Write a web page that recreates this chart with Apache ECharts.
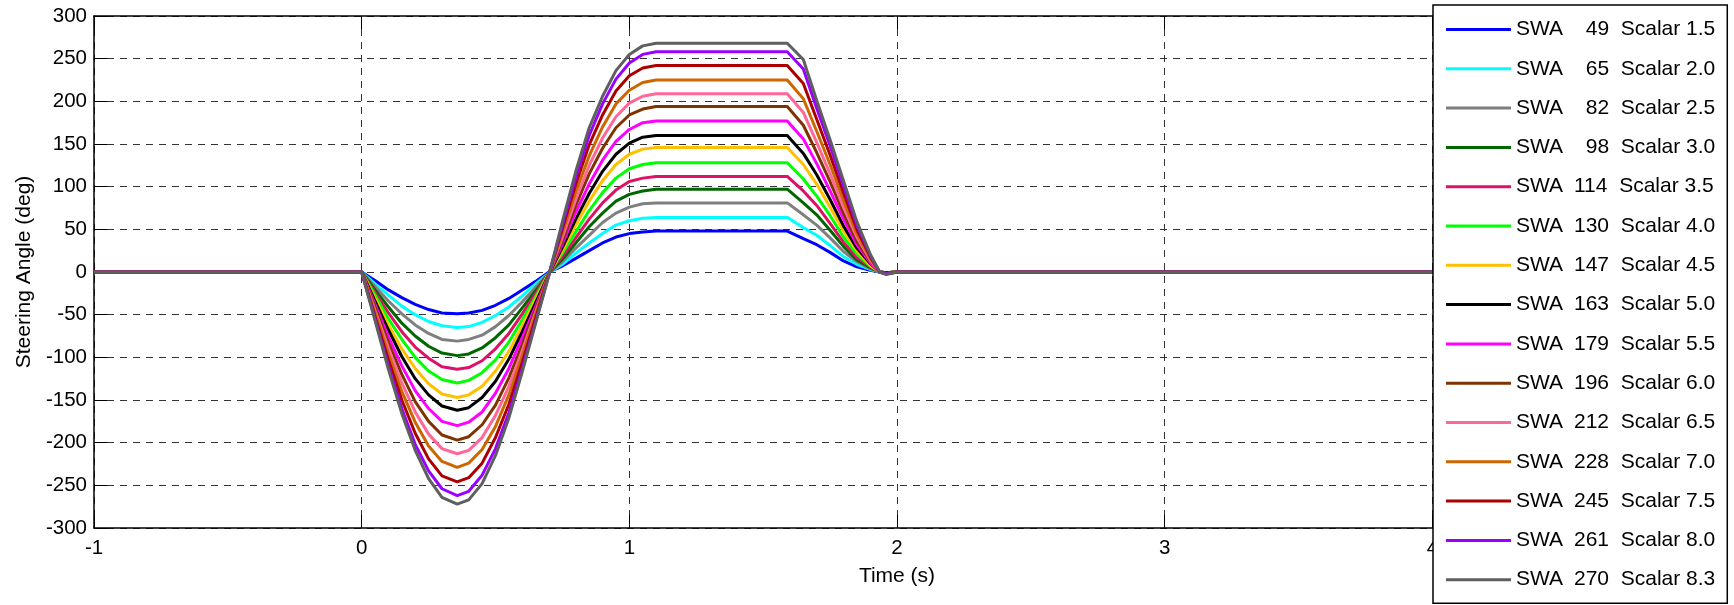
<!DOCTYPE html>
<html>
<head>
<meta charset="utf-8">
<title>Steering Angle - Sine with Dwell</title>
<script src="https://cdn.jsdelivr.net/npm/echarts@6/dist/echarts.min.js"></script>
<style>
  html, body { margin: 0; padding: 0; background: #fff; }
  #chart { width: 1734px; height: 605px; }
</style>
</head>
<body>
<div id="chart"></div>
<script>
// time stamps (s) shared by every run
const time = [-1, 0, 0.05, 0.1, 0.15, 0.2, 0.25, 0.3, 0.357, 0.4, 0.45, 0.5, 0.55, 0.6, 0.65, 0.7,
  0.75, 0.8, 0.85, 0.9, 0.95, 1.0, 1.05, 1.1, 1.35, 1.59, 1.65, 1.7, 1.75, 1.8, 1.85, 1.9, 1.935, 1.96, 2.0, 5]

const swaDeg = [49, 65, 82, 98, 114, 130, 147, 163, 179, 196, 212, 228, 245, 261, 270]
const scalar = ["1.5", "2.0", "2.5", "3.0", "3.5", "4.0", "4.5", "5.0", "5.5", "6.0", "6.5", "7.0", "7.5", "8.0", "8.3"]

// steering angle (deg), one array per run
const swa049 = [0, 0, -10, -21, -30, -38, -44, -48, -49, -48, -45, -39, -31, -21, -11, 0, 7, 16, 25, 34, 41, 45, 47, 48, 48, 48, 39, 32, 23, 13, 6, 2, 0, -1, 0, 0]
const swa065 = [0, 0, -14, -27, -40, -50, -58, -63, -65, -64, -59, -51, -41, -28, -14, -1, 9, 22, 34, 45, 55, 60, 63, 64, 64, 64, 52, 43, 31, 18, 9, 3, 0, -1, 0, 0]
const swa082 = [0, 0, -17, -34, -49, -62, -72, -79, -81, -79, -74, -64, -51, -35, -18, -1, 12, 28, 43, 58, 69, 76, 80, 81, 81, 81, 67, 55, 40, 24, 12, 4, 0, -1, 0, 0]
const swa098 = [0, 0, -21, -41, -60, -75, -87, -95, -98, -96, -89, -77, -62, -42, -22, -1, 15, 34, 53, 69, 83, 91, 95, 97, 97, 97, 81, 67, 49, 30, 14, 5, 0, -1, 0, 0]
const swa114 = [0, 0, -24, -48, -70, -88, -101, -111, -114, -112, -104, -90, -72, -49, -25, -1, 18, 40, 62, 81, 96, 106, 110, 112, 112, 112, 95, 78, 57, 35, 17, 6, 0, -1, 0, 0]
const swa130 = [0, 0, -27, -55, -79, -100, -116, -126, -130, -127, -118, -103, -82, -56, -29, -1, 22, 47, 72, 93, 110, 121, 126, 128, 128, 128, 109, 89, 66, 41, 21, 7, 0, -1, 0, 0]
const swa147 = [0, 0, -31, -62, -90, -113, -131, -143, -147, -144, -134, -116, -93, -63, -32, -1, 25, 55, 83, 107, 126, 138, 144, 146, 146, 146, 126, 103, 76, 48, 25, 8, 0, -1, 0, 0]
const swa163 = [0, 0, -34, -68, -99, -125, -144, -157, -162, -159, -147, -128, -102, -70, -36, -2, 29, 62, 92, 118, 138, 151, 158, 160, 160, 160, 139, 114, 85, 54, 28, 10, 0, -1, 0, 0]
const swa179 = [0, 0, -38, -76, -110, -139, -160, -175, -180, -176, -164, -142, -113, -77, -40, -2, 33, 70, 103, 131, 153, 167, 175, 177, 177, 177, 156, 127, 95, 62, 32, 11, 0, -2, 0, 0]
const swa196 = [0, 0, -41, -83, -120, -152, -175, -191, -197, -193, -179, -156, -124, -85, -43, -2, 37, 78, 115, 145, 169, 184, 191, 194, 194, 194, 172, 140, 106, 69, 36, 13, 0, -2, 0, 0]
const swa212 = [0, 0, -45, -89, -130, -164, -190, -207, -213, -209, -194, -168, -134, -92, -47, -2, 41, 85, 125, 157, 182, 198, 206, 209, 209, 209, 187, 152, 115, 76, 41, 14, 0, -2, 0, 0]
const swa228 = [0, 0, -48, -96, -140, -176, -204, -222, -229, -224, -208, -181, -144, -98, -50, -2, 46, 94, 136, 170, 197, 213, 222, 225, 225, 225, 203, 165, 126, 84, 45, 16, 0, -2, 0, 0]
const swa245 = [0, 0, -52, -103, -150, -189, -219, -239, -246, -241, -224, -194, -155, -106, -54, -2, 51, 103, 149, 184, 212, 230, 239, 242, 242, 242, 221, 179, 137, 93, 50, 18, 0, -2, 0, 0]
const swa261 = [0, 0, -55, -110, -160, -202, -233, -254, -262, -257, -238, -207, -165, -113, -58, -3, 55, 111, 160, 197, 226, 245, 255, 258, 258, 258, 238, 192, 148, 101, 55, 20, 0, -2, 0, 0]
const swa270 = [0, 0, -57, -114, -166, -209, -242, -264, -272, -267, -248, -215, -171, -117, -60, -3, 59, 118, 169, 206, 236, 255, 265, 268, 268, 268, 249, 201, 155, 107, 59, 21, 0, -3, 0, 0]

const runs = [swa049, swa065, swa082, swa098, swa114, swa130, swa147, swa163,
  swa179, swa196, swa212, swa228, swa245, swa261, swa270]

const colors = ["#0000ff", "#00ffff", "#7f7f7f", "#006600", "#dd1166", "#00ff00", "#ffc000", "#000000",
  "#ff00ff", "#7f3300", "#ff6699", "#cc6600", "#aa0000", "#9900ff", "#5f5f5f"]

const font = "'Liberation Sans', Arial, sans-serif"
const names = swaDeg.map((d, i) => `SWA ${d} Scalar ${scalar[i]}`)

const series = runs.map((vals, i) => ({
  name: names[i],
  type: "line",
  data: time.map((t, j) => [t, vals[j]]),
  symbol: "none",
  lineStyle: { width: 3, color: colors[i] },
  itemStyle: { color: colors[i] },
  z: 2 + i
}))

const gridLine = { show: true, lineStyle: { color: "#333", width: 1, type: [7, 6] } }

const tok = { fontSize: 21, lineHeight: 20, fontFamily: font, color: "#000", align: "left" }

const option = {
  animation: false,
  backgroundColor: "#fff",
  textStyle: { fontFamily: font },
  grid: { left: 94, right: 34, top: 16, bottom: 77 },
  xAxis: [
    {
      type: "value",
      min: -1,
      max: 5,
      interval: 1,
      name: "Time (s)",
      nameLocation: "middle",
      nameGap: 38,
      nameTextStyle: { fontSize: 21, color: "#000", fontFamily: font },
      axisLine: { onZero: false, lineStyle: { color: "#000", width: 1.5 } },
      axisTick: { inside: true, length: 13, lineStyle: { color: "#000" } },
      axisLabel: { fontSize: 20.5, color: "#000", margin: 10, fontFamily: font },
      splitLine: gridLine
    },
    {
      type: "value",
      position: "top",
      min: -1,
      max: 5,
      interval: 1,
      axisLine: { onZero: false, lineStyle: { color: "#000", width: 1.5 } },
      axisTick: { inside: true, length: 13, lineStyle: { color: "#000" } },
      axisLabel: { show: false },
      splitLine: { show: false }
    }
  ],
  yAxis: {
    type: "value",
    min: -300,
    max: 300,
    interval: 50,
    name: "Steering Angle (deg)",
    nameLocation: "middle",
    nameGap: 58,
    nameTextStyle: { fontSize: 21, color: "#000", fontFamily: font },
    axisLine: { onZero: false, lineStyle: { color: "#000", width: 1.5 } },
    axisTick: { inside: true, length: 13, lineStyle: { color: "#000" } },
    axisLabel: { fontSize: 20.5, color: "#000", margin: 7, fontFamily: font },
    splitLine: gridLine
  },
  legend: {
    orient: "vertical",
    z: 100,
    left: 1433,
    top: 5,
    height: 700,
    padding: [14, 12, 13, 13],
    itemGap: 18.3,
    itemWidth: 65,
    itemHeight: 3,
    icon: "rect",
    backgroundColor: "#fff",
    borderColor: "#000",
    borderWidth: 1.5,
    data: names,
    formatter: (name) => {
      const i = names.indexOf(name)
      const n = swaDeg[i] < 100 ? "n2" : "n3"
      return `{a|SWA}{${n}|${swaDeg[i]}}{c|  Scalar ${scalar[i]}}`
    },
    textStyle: {
      color: "#000",
      fontFamily: font,
      fontSize: 21,
      lineHeight: 20,
      rich: {
        a: Object.assign({}, tok, { width: 58 }),
        n2: Object.assign({}, tok, { padding: [0, 0, 0, 11.7] }),
        n3: Object.assign({}, tok),
        c: Object.assign({}, tok)
      }
    }
  },
  series: series
}

const chart = echarts.init(document.getElementById("chart"), null, { renderer: "canvas" })
chart.setOption(option)
</script>
</body>
</html>
